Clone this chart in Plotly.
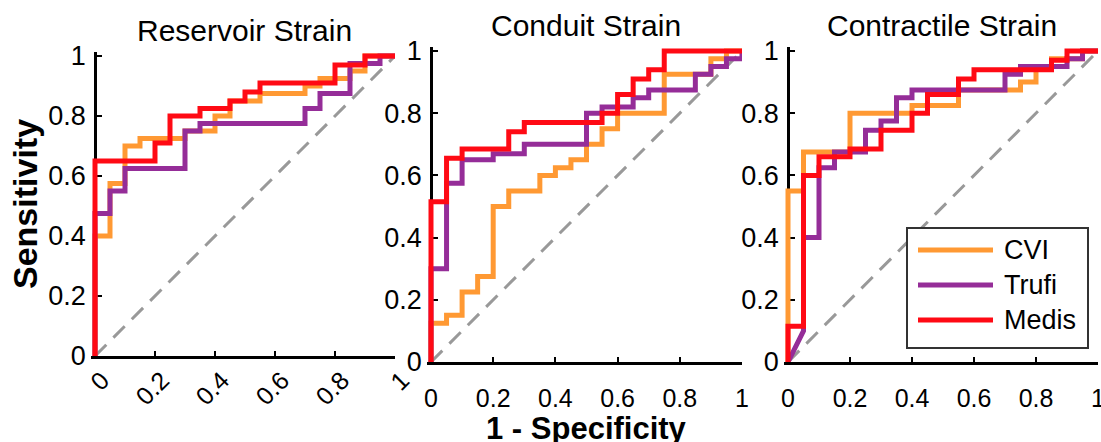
import plotly.graph_objects as go

W, H = 1101, 442

series_names = ["CVI", "Trufi", "Medis"]
series_colors = ["#FF9933", "#952D98", "#FF0A14"]
panel_titles = ["Reservoir Strain", "Conduit Strain", "Contractile Strain"]
tick_vals = [0, 0.2, 0.4, 0.6, 0.8, 1]
tick_text = ["0", "0.2", "0.4", "0.6", "0.8", "1"]
x_title = "1 - Specificity"
y_title = "Sensitivity"

# ---- Reservoir Strain ----
res_cvi_fpr = [0, 0, 0.05, 0.05, 0.1, 0.1, 0.15, 0.15, 0.3, 0.3, 0.4, 0.4, 0.45, 0.45, 0.55, 0.55, 0.7, 0.7, 0.75, 0.75, 0.85, 0.85, 0.9, 0.9, 1]
res_cvi_tpr = [0, 0.4, 0.4, 0.575, 0.575, 0.7, 0.7, 0.725, 0.725, 0.75, 0.75, 0.8, 0.8, 0.85, 0.85, 0.875, 0.875, 0.9, 0.9, 0.925, 0.925, 0.95, 0.95, 1, 1]
res_trufi_fpr = [0, 0, 0.05, 0.05, 0.1, 0.1, 0.3, 0.3, 0.35, 0.35, 0.7, 0.7, 0.75, 0.75, 0.85, 0.85, 0.95, 0.95, 1]
res_trufi_tpr = [0, 0.475, 0.475, 0.55, 0.55, 0.625, 0.625, 0.75, 0.75, 0.775, 0.775, 0.825, 0.825, 0.875, 0.875, 0.975, 0.975, 1, 1]
res_medis_fpr = [0, 0, 0.2, 0.2, 0.25, 0.25, 0.35, 0.35, 0.45, 0.45, 0.5, 0.5, 0.55, 0.55, 0.8, 0.8, 0.9, 0.9, 1]
res_medis_tpr = [0, 0.65, 0.65, 0.71, 0.71, 0.8, 0.8, 0.825, 0.825, 0.85, 0.85, 0.88, 0.88, 0.91, 0.91, 0.97, 0.97, 1, 1]

# ---- Conduit Strain ----
con_cvi_fpr = [0, 0, 0.05, 0.05, 0.1, 0.1, 0.15, 0.15, 0.2, 0.2, 0.25, 0.25, 0.35, 0.35, 0.4, 0.4, 0.45, 0.45, 0.5, 0.5, 0.55, 0.55, 0.6, 0.6, 0.75, 0.75, 0.9, 0.9, 0.95, 0.95, 1]
con_cvi_tpr = [0, 0.125, 0.125, 0.15, 0.15, 0.225, 0.225, 0.275, 0.275, 0.5, 0.5, 0.55, 0.55, 0.6, 0.6, 0.625, 0.625, 0.65, 0.65, 0.7, 0.7, 0.75, 0.75, 0.8, 0.8, 0.925, 0.925, 0.975, 0.975, 1, 1]
con_trufi_fpr = [0, 0, 0.05, 0.05, 0.1, 0.1, 0.2, 0.2, 0.3, 0.3, 0.5, 0.5, 0.55, 0.55, 0.65, 0.65, 0.7, 0.7, 0.85, 0.85, 0.9, 0.9, 0.95, 0.95, 1, 1]
con_trufi_tpr = [0, 0.3, 0.3, 0.575, 0.575, 0.65, 0.65, 0.67, 0.67, 0.7, 0.7, 0.8, 0.8, 0.82, 0.82, 0.85, 0.85, 0.875, 0.875, 0.925, 0.925, 0.95, 0.95, 0.975, 0.975, 1]
con_medis_fpr = [0, 0, 0.05, 0.05, 0.1, 0.1, 0.25, 0.25, 0.3, 0.3, 0.55, 0.55, 0.6, 0.6, 0.65, 0.65, 0.7, 0.7, 0.75, 0.75, 1]
con_medis_tpr = [0, 0.515, 0.515, 0.655, 0.655, 0.685, 0.685, 0.74, 0.74, 0.77, 0.77, 0.8, 0.8, 0.86, 0.86, 0.91, 0.91, 0.94, 0.94, 1, 1]

# ---- Contractile Strain ----
ctr_cvi_fpr = [0, 0, 0.05, 0.05, 0.2, 0.2, 0.4, 0.4, 0.55, 0.55, 0.75, 0.75, 0.8, 0.8, 0.85, 0.85, 0.95, 0.95, 1]
ctr_cvi_tpr = [0, 0.55, 0.55, 0.675, 0.675, 0.8, 0.8, 0.825, 0.825, 0.875, 0.875, 0.9, 0.9, 0.95, 0.95, 0.975, 0.975, 1, 1]
ctr_trufi_fpr = [0, 0.05, 0.05, 0.1, 0.1, 0.15, 0.15, 0.25, 0.25, 0.3, 0.3, 0.35, 0.35, 0.4, 0.4, 0.7, 0.7, 0.75, 0.75, 0.9, 0.9, 0.95, 0.95, 1]
ctr_trufi_tpr = [0, 0.1, 0.4, 0.4, 0.625, 0.625, 0.675, 0.675, 0.745, 0.745, 0.775, 0.775, 0.85, 0.85, 0.875, 0.875, 0.925, 0.925, 0.95, 0.95, 0.975, 0.975, 1, 1]
ctr_medis_fpr = [0, 0, 0.05, 0.05, 0.1, 0.1, 0.2, 0.2, 0.3, 0.3, 0.4, 0.4, 0.45, 0.45, 0.55, 0.55, 0.6, 0.6, 0.85, 0.85, 0.9, 0.9, 1]
ctr_medis_tpr = [0, 0.115, 0.115, 0.6, 0.6, 0.66, 0.66, 0.685, 0.685, 0.745, 0.745, 0.8, 0.8, 0.86, 0.86, 0.91, 0.91, 0.94, 0.94, 0.97, 0.97, 1, 1]

chance_line = [0, 1]

panels = [
    [(res_cvi_fpr, res_cvi_tpr), (res_trufi_fpr, res_trufi_tpr), (res_medis_fpr, res_medis_tpr)],
    [(con_cvi_fpr, con_cvi_tpr), (con_trufi_fpr, con_trufi_tpr), (con_medis_fpr, con_medis_tpr)],
    [(ctr_cvi_fpr, ctr_cvi_tpr), (ctr_trufi_fpr, ctr_trufi_tpr), (ctr_medis_fpr, ctr_medis_tpr)],
]

# ---- layout geometry (pixels) ----
# (x of data 0, x of data 1, y of data 0, y of data 1)
boxes = [(95, 395, 356, 56), (431, 742, 362, 51), (788, 1098, 362, 51)]
title_pos = [(244, 31), (586, 25), (942, 25)]
PAD = 0.012
FONT = "Liberation Sans, Arial, Helvetica, sans-serif"

fig = go.Figure()
layout = dict(
    width=W, height=H, margin=dict(l=0, r=0, t=0, b=0, pad=0, autoexpand=False),
    plot_bgcolor="white", paper_bgcolor="white", showlegend=False,
    font=dict(family=FONT, size=26, color="black"),
)
annotations = []
shapes = []

for i, (curves, box) in enumerate(zip(panels, boxes)):
    x0p, x1p, y0p, y1p = box
    sx = (x1p - x0p)
    sy = (y0p - y1p)
    xd = [(x0p - PAD * sx) / W, x1p / W]
    yd = [1 - y0p / H, 1 - (y1p - PAD * sy) / H]
    xa = "x" if i == 0 else f"x{i+1}"
    ya = "y" if i == 0 else f"y{i+1}"
    xk = "xaxis" if i == 0 else f"xaxis{i+1}"
    yk = "yaxis" if i == 0 else f"yaxis{i+1}"
    axis_common = dict(
        tickvals=tick_vals, ticktext=tick_text, showgrid=False, zeroline=False,
        showline=True, linecolor="black", linewidth=2.5, ticks="inside",
        ticklen=5, tickwidth=2, tickcolor="black", layer="below traces",
        automargin=False, ticklabeloverflow="allow",
    )
    layout[xk] = dict(axis_common, domain=xd, range=[-PAD, 1], anchor=ya,
                      tickfont=dict(family=FONT, size=25, color="black"),
                      tickangle=-45 if i == 0 else 0,
                      ticklabelstandoff=-3 if i == 0 else 12,
                      ticklabelshift=7 if i == 0 else 0)
    layout[yk] = dict(axis_common, domain=yd, range=[0, 1 + PAD], anchor="free",
                      tickfont=dict(family=FONT, size=27, color="black"),
                      position=x0p / W, ticklabelstandoff=3)

    fig.add_trace(go.Scatter(x=chance_line, y=chance_line, mode="lines",
                             line=dict(color="#999999", width=3, dash="16px,10px"),
                             xaxis=xa, yaxis=ya, hoverinfo="skip"))
    for (fx, ty), name, col in zip(curves, series_names, series_colors):
        fig.add_trace(go.Scatter(x=fx, y=ty, mode="lines", name=name,
                                 line=dict(color=col, width=5),
                                 xaxis=xa, yaxis=ya))
    tx, ty_ = title_pos[i]
    annotations.append(dict(text=panel_titles[i], x=tx / W, y=1 - ty_ / H,
                            xref="paper", yref="paper",
                            showarrow=False, xanchor="center", yanchor="middle",
                            font=dict(family=FONT, size=30, color="black")))

annotations.append(dict(text="<b>" + y_title + "</b>", x=25 / W, y=1 - 204 / H,
                        xref="paper", yref="paper", showarrow=False, textangle=-90,
                        xanchor="center", yanchor="middle",
                        font=dict(family=FONT, size=34, color="black")))
annotations.append(dict(text="<b>" + x_title + "</b>", x=586 / W, y=1 - 428 / H,
                        xref="paper", yref="paper", showarrow=False,
                        xanchor="center", yanchor="middle",
                        font=dict(family=FONT, size=31, color="black")))

# ---- legend box (drawn in the Contractile Strain panel) ----
lg_x0, lg_x1, lg_y0, lg_y1 = 907, 1088, 228, 348
shapes.append(dict(type="rect", xref="paper", yref="paper",
                   x0=lg_x0 / W, x1=lg_x1 / W, y0=1 - lg_y1 / H, y1=1 - lg_y0 / H,
                   line=dict(color="#333333", width=2), fillcolor="white", layer="above"))
row_y = [250, 285, 320]
for name, col, ry in zip(series_names, series_colors, row_y):
    shapes.append(dict(type="line", xref="paper", yref="paper",
                       x0=918 / W, x1=993 / W, y0=1 - ry / H, y1=1 - ry / H,
                       line=dict(color=col, width=5), layer="above"))
    annotations.append(dict(text=name, x=1002 / W, y=1 - ry / H, xref="paper", yref="paper",
                            showarrow=False, xanchor="left", yanchor="middle",
                            font=dict(family=FONT, size=27, color="black")))

layout["annotations"] = annotations
layout["shapes"] = shapes
fig.update_layout(**layout)
fig.write_html("out.html", config={"displayModeBar": False},
               post_script="document.body.style.margin='0px';document.body.style.overflow='hidden';")
